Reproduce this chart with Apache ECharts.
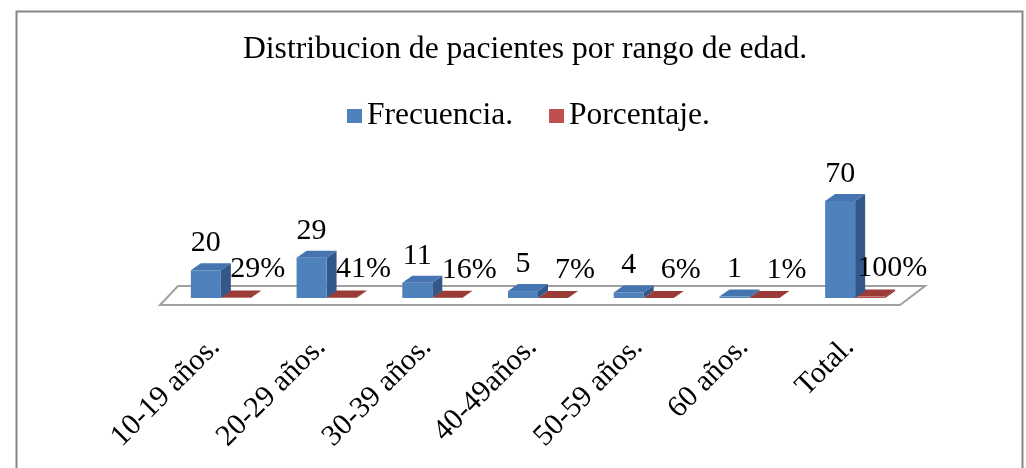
<!DOCTYPE html>
<html>
<head>
<meta charset="utf-8">
<script src="https://cdn.jsdelivr.net/npm/echarts@6/dist/echarts.min.js"></script>
<style>
  html, body { margin: 0; padding: 0; background: #fff; }
  #main { width: 1026px; height: 468px; }
</style>
</head>
<body>
<div id="main"></div>
<script>
// datos
const categories = ['10-19 años.', '20-29 años.', '30-39 años.', '40-49años.', '50-59 años.', '60 años.', 'Total.'];
const frecuencia = [20, 29, 11, 5, 4, 1, 70];
const porcentaje = [0.29, 0.41, 0.16, 0.07, 0.06, 0.01, 1.00];

const FONT = "'Liberation Serif', 'Times New Roman', serif";
const BAR_W = 30;
const DX = 10, DY = 7;

// barra 3d: cara frontal, cara superior y lateral
function bar3d(api, offset, colors, labelText, labelDx, labelDy) {
  const base = api.coord([api.value(0), 0]);
  const top = api.coord([api.value(0), api.value(1)]);
  const x0 = base[0] + offset, x1 = x0 + BAR_W;
  const yb = base[1], yt = top[1];
  return {
    type: 'group',
    children: [
      { type: 'polygon', z2: colors.z, shape: { points: [[x1, yb], [x1 + DX, yb - DY], [x1 + DX, yt - DY], [x1, yt]] }, style: { fill: colors.side } },
      { type: 'rect', z2: colors.z, shape: { x: x0, y: yt, width: BAR_W, height: yb - yt }, style: { fill: colors.front } },
      { type: 'polygon', z2: colors.z, shape: { points: [[x0, yt], [x1, yt], [x1 + DX, yt - DY], [x0 + DX, yt - DY]] }, style: { fill: colors.top } },
      { type: 'text', z2: 100, x: (x0 + x1) / 2 + labelDx, y: yt - labelDy,
        style: { text: labelText, fontSize: 30, fontFamily: FONT, fill: '#000', align: 'center', verticalAlign: 'bottom' } }
    ]
  };
}

const chart = echarts.init(document.getElementById('main'));
const option = {
  animation: false,
  backgroundColor: '#fff',
  graphic: [{
    type: 'rect', left: 14, top: 9, z: -1,
    shape: { width: 1006, height: 470 },
    style: { fill: 'none', stroke: '#868686', lineWidth: 2 }
  }],
  title: {
    text: 'Distribucion de pacientes por rango de edad.',
    left: 238, top: 29,
    textStyle: { fontFamily: FONT, fontSize: 31.6, fontWeight: 'normal', color: '#000' }
  },
  legend: {
    data: ['Frecuencia.', 'Porcentaje.'],
    top: 95, left: 342,
    icon: 'rect', itemWidth: 15, itemHeight: 14, itemGap: 36,
    textStyle: { fontFamily: FONT, fontSize: 31.5, color: '#000' }
  },
  grid: { left: 168, right: 118, top: 201, bottom: 170 },
  xAxis: {
    type: 'category',
    data: categories,
    axisLine: { show: false },
    axisTick: { show: false },
    axisLabel: { rotate: 45, margin: 39, padding: [0, 8, 0, 0], fontFamily: FONT, fontSize: 30, color: '#000', interval: 0 }
  },
  yAxis: { type: 'value', min: 0, max: 70, show: false },
  series: [
    {
      name: 'piso', type: 'custom', silent: true, z: 1,
      data: [[0, 0]],
      renderItem: function (params, api) {
        const band = api.size([1, 0])[0];
        const a = api.coord([0, 0]);
        const b = api.coord([categories.length - 1, 0]);
        const l = a[0] - band / 2, r = b[0] + band / 2, y = a[1];
        return {
          type: 'polygon',
          shape: { points: [[l - 8, y + 7], [r - 8, y + 7], [r + 17, y - 12], [l + 10, y - 12]] },
          style: { fill: '#fff', stroke: '#A0A0A0', lineWidth: 2 }
        };
      }
    },
    {
      name: 'Porcentaje.', type: 'custom', z: 2,
      itemStyle: { color: '#C0504D' },
      encode: { x: 0, y: 1 },
      data: porcentaje.map((v, i) => [i, v]),
      renderItem: function (params, api) {
        return bar3d(api, 0, { front: '#C0504D', top: '#9A3B38', side: '#7E2F2D', z: 0 },
          Math.round(api.value(1) * 100) + '%', 22, 13);
      }
    },
    {
      name: 'Frecuencia.', type: 'custom', z: 2,
      itemStyle: { color: '#4F81BD' },
      encode: { x: 0, y: 1 },
      data: frecuencia.map((v, i) => [i, v]),
      renderItem: function (params, api) {
        return bar3d(api, -BAR_W, { front: '#4F81BD', top: '#4574B0', side: '#34578A', z: 10 },
          String(api.value(1)), 0, 12);
      }
    }
  ]
};
chart.setOption(option);
</script>
</body>
</html>
